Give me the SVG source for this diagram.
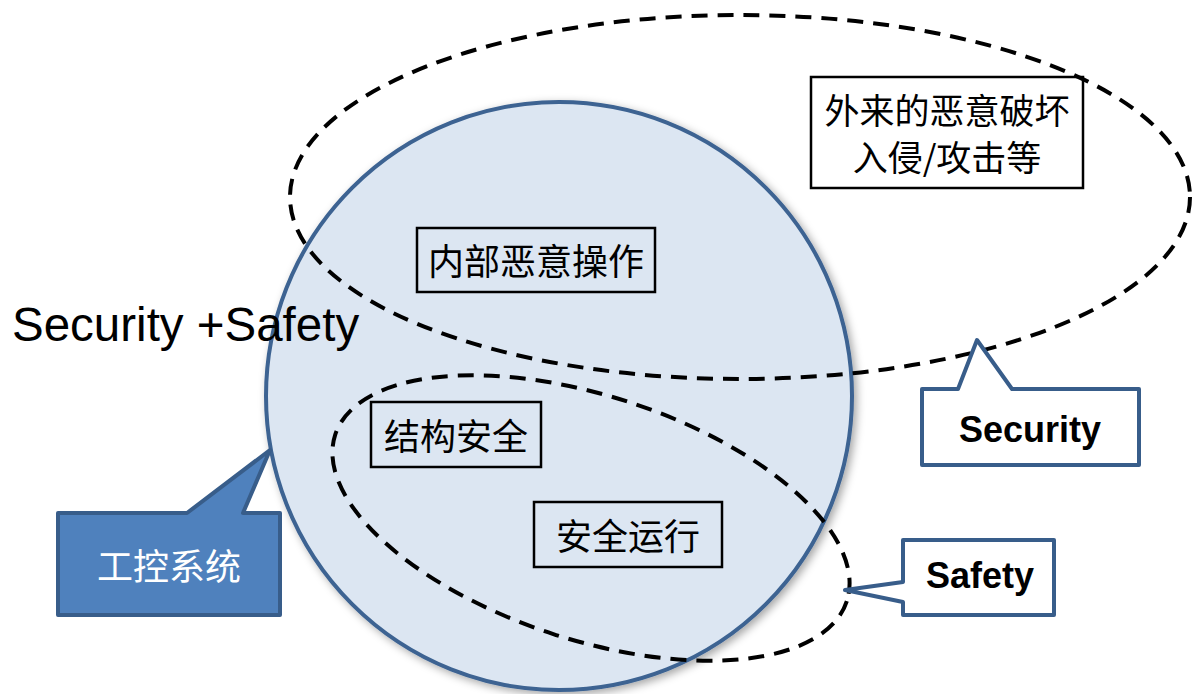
<svg xmlns="http://www.w3.org/2000/svg" width="1192" height="694" viewBox="0 0 1192 694">
<style>
.cjk{font-family:"Noto Sans CJK SC","Noto Sans",sans-serif;font-size:36px;fill:#000;text-anchor:middle}
.box{fill:none;stroke:#000;stroke-width:2.5}
.dash{fill:none;stroke:#000;stroke-width:4;stroke-dasharray:16 10}
.call{fill:#fff;stroke:#385D8A;stroke-width:4;stroke-linejoin:round}
.bold{font-family:"Liberation Sans",Arial,sans-serif;font-weight:bold;font-size:36px;fill:#000;text-anchor:middle}
</style>
<defs>
<filter id="sh" x="-10%" y="-10%" width="120%" height="120%">
<feDropShadow dx="3" dy="3" stdDeviation="4" flood-color="#000" flood-opacity="0.35"/>
</filter>
</defs>
<rect width="1192" height="694" fill="#fff"/>
<g id="ics-circle">
<ellipse cx="559" cy="396" rx="293" ry="294" fill="#DCE6F2" stroke="#3D6392" stroke-width="4" filter="url(#sh)"/>
</g>
<g id="connectors">
<ellipse class="dash" cx="740" cy="197" rx="450" ry="182"/>
<ellipse class="dash" cx="591" cy="518" rx="269" ry="122" transform="rotate(18 591 518)"/>
</g>
<g id="title">
<text x="12" y="341" font-family="'Liberation Sans',Arial,sans-serif" font-size="47.5" fill="#000">Security +Safety</text>
</g>
<g id="internal">
<rect class="box" x="417" y="228" width="238" height="64"/>
<text class="cjk" x="536" y="275">内部恶意操作</text>
</g>
<g id="external">
<rect class="box" x="811" y="77" width="272" height="111"/>
<text class="cjk" x="947" y="124" style="font-size:35px">外来的恶意破坏</text>
<text class="cjk" x="947" y="171" style="font-size:35px">入侵/攻击等</text>
</g>
<g id="structure">
<rect class="box" x="371" y="402" width="170" height="65"/>
<text class="cjk" x="456" y="450">结构安全</text>
</g>
<g id="operation">
<rect class="box" x="534" y="502" width="188" height="65"/>
<text class="cjk" x="628" y="550">安全运行</text>
</g>
<g id="security-callout">
<path class="call" d="M922,389 L958,389 L977,340 L1012,389 L1139,389 L1139,465 L922,465 Z"/>
<text class="bold" x="1030" y="442">Security</text>
</g>
<g id="safety-callout">
<path class="call" d="M903,540 L1054,540 L1054,615 L903,615 L903,602 L845,590 L903,582 Z"/>
<text class="bold" x="980" y="588">Safety</text>
</g>
<g id="ics-callout">
<path d="M58,513 L187,513 L270,450 L243,513 L280,513 L280,615 L58,615 Z" fill="#4F81BD" stroke="#385D8A" stroke-width="4" stroke-linejoin="round"/>
<text class="cjk" x="169" y="580" style="fill:#fff">工控系统</text>
</g>
</svg>
